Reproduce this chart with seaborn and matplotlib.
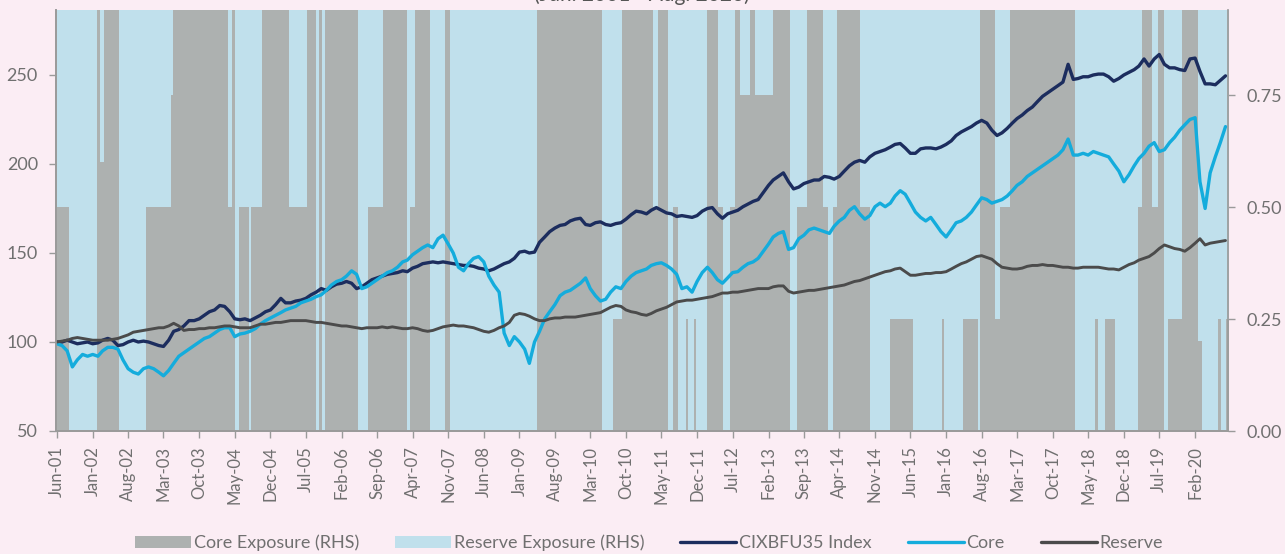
import numpy as np
import pandas as pd
import matplotlib.pyplot as plt
from matplotlib.patches import Patch
from matplotlib.lines import Line2D
import seaborn as sns

# Monthly index levels, Jun-2001 .. Aug-2020
start_month = "2001-06-01"
index_vals = [
    100, 100, 101, 100, 99, 99.5, 100,
    99, 99.5, 101, 102, 101, 98, 98.5, 100, 101, 100, 100.5, 100,
    99, 98, 97.5, 101, 106, 107, 109, 112, 112, 113, 115, 117,
    118, 120.5, 120, 117, 113, 112.5, 113, 112, 113.5, 115, 117, 118,
    121, 124.5, 122, 122, 123, 123.5, 124.5, 126.5, 128, 130, 129, 131,
    132.5, 133, 134, 133, 130, 131, 133, 135, 136, 137, 138, 138.5,
    139, 140, 139.5, 141.5, 142.5, 144, 144.5, 145, 144.5, 145, 144.5, 144,
    143.5, 143, 143, 142.5, 141.5, 141, 140, 141, 142.5, 144, 145, 147,
    150.5, 151, 150, 150.5, 156, 159, 162, 164, 165.5, 166, 168, 169,
    169.5, 166, 165.5, 167, 167.5, 166, 165.5, 166.5, 167, 169, 171.5, 173.5,
    173, 172, 174, 175.5, 174, 172.5, 172, 170.5, 171, 170.5, 170, 171,
    173.5, 175, 175.5, 172, 169.5, 172, 173, 174, 176, 177.5, 179, 180,
    184, 188, 191, 193, 195, 190, 186, 187, 189, 190, 191, 191,
    193, 192.5, 191.5, 193, 196, 199, 201, 202, 201, 204, 206, 207,
    208, 209.5, 211, 211.5, 209, 206, 206, 208.5, 209, 209, 208.5, 209.5,
    211, 213, 216, 218, 219.5, 221, 223, 224.5, 223, 219, 216, 217.5,
    220, 223, 225.5, 227.5, 230, 232, 235, 238, 240, 242, 244, 246,
    256, 247.5, 248, 249, 249, 250, 250.5, 250.5, 249, 246.5, 248, 250,
    251.5, 253, 255, 259, 255, 259, 261.5, 256, 254, 254, 253, 252.5,
    259, 259.5, 252, 245, 245, 244.5, 247, 249.5,
]
core_vals = [
    99, 98, 95, 86, 90, 93, 92,
    93, 92, 95, 97, 97, 96, 90, 85, 83, 82, 85, 86,
    85, 83, 81, 84, 88, 92, 94, 96, 98, 100, 102, 103,
    105, 107, 108, 108, 103, 104.5, 105, 106, 107.5, 110, 112, 113.5,
    115, 116.5, 118, 119, 120, 122, 123, 124, 125.5, 126.5, 129, 132,
    134, 135, 137, 140, 138, 130, 131, 133, 135, 137, 139, 140,
    142, 145, 146, 149, 151, 153, 154.5, 153, 158, 160, 155, 150,
    142, 140, 144, 147, 148, 145, 137, 132, 128, 105, 98, 103,
    100, 96, 88, 100, 106, 113, 117, 121, 126, 128, 129, 131,
    133, 136, 130, 126, 123, 124, 128, 131, 130, 134, 137, 139,
    140, 141, 143, 144, 144.5, 143, 141, 138, 130, 131, 128, 134,
    139, 142, 139, 135, 133, 136, 139, 139.5, 142, 144, 145, 147,
    151, 155, 159, 161, 162, 152, 153, 158, 160, 163, 164, 163,
    162, 161, 165, 168, 170, 174, 176, 172, 169, 171, 176, 178,
    176, 178, 182, 185, 183, 178, 173, 170, 168, 170, 166, 162,
    159, 163, 167, 168, 170, 173, 177, 181, 180, 178, 179, 180,
    182, 185, 188, 190, 193, 195, 197, 199, 201, 203, 205, 208,
    214, 205, 205, 206, 205, 207, 206, 205, 204, 200, 196, 190,
    194, 199, 203, 206, 210, 212, 207, 208, 212, 215, 219, 222,
    225, 226, 190, 175, 195, 204, 212, 221,
]
reserve_vals = [
    100, 100.5, 101, 102, 102.5, 102, 101.5,
    101, 101, 101, 101, 101.5, 102, 103, 104, 105.5, 106, 106.5, 107,
    107.5, 108, 108, 109, 110.5, 109, 106.5, 107, 107, 107.5, 107.5, 108,
    108, 108.5, 109, 109, 108.5, 108, 108, 108, 109, 110, 110, 110.5,
    111, 111, 111.5, 112, 112, 112, 112, 111.5, 111, 111, 110.5, 110,
    109.5, 109, 109, 108.5, 108, 107.5, 108, 108, 108, 108.5, 108, 108.5,
    108, 107.5, 107.5, 108, 107.5, 106.5, 106, 106.5, 107.5, 108.5, 109, 109.5,
    109, 109, 108.5, 108, 107, 106, 105.5, 106.5, 108, 109, 111, 115,
    116, 115.5, 114.5, 113, 112, 112, 113, 113.5, 113.5, 114, 114, 114,
    114.5, 115, 115.5, 116, 116.5, 118, 119.5, 120.5, 120, 118, 117, 116.5,
    115.5, 115, 116, 117.5, 118.5, 119.5, 121, 122.5, 123, 123.5, 123.5, 124,
    124.5, 125, 125.5, 126.5, 127.5, 127.5, 128, 128, 128.5, 129, 129.5, 130,
    130, 130, 131, 131.5, 131.5, 128.5, 127.5, 128, 128.5, 129, 129, 129.5,
    130, 130.5, 131, 131.5, 132, 133, 134, 134.5, 135.5, 136.5, 137.5, 138.5,
    139.5, 140, 141, 141.5, 139.5, 137.5, 137.5, 138, 138.5, 138.5, 139, 139,
    139.5, 141, 142.5, 144, 145, 146.5, 148, 148.5, 147.5, 146.5, 144, 142,
    141.5, 141, 141, 141.5, 142.5, 143, 143, 143.5, 143, 143, 142.5, 142,
    142, 141.5, 141.5, 142, 142, 142, 142, 141.5, 141, 141, 140.5, 142,
    143.5, 144.5, 146, 147, 148, 150, 152.5, 154.5, 153.5, 152.5, 152, 151,
    153, 155.5, 158, 154.5, 155.5, 156, 156.5, 157,
]

# Core exposure regimes (RHS): start date of each regime and core weight
exposure_dates = [
    "2001-06-01", "2001-08-12", "2002-01-27", "2002-02-15", "2002-03-09",
    "2002-06-07", "2002-11-16", "2003-04-13", "2003-04-25", "2004-03-21",
    "2004-04-14", "2004-05-02", "2004-05-26", "2004-07-25", "2004-08-07",
    "2004-10-11", "2005-03-21", "2005-07-07", "2005-08-31", "2005-09-18",
    "2005-10-06", "2005-10-24", "2006-05-09", "2006-07-07", "2006-10-06",
    "2007-02-28", "2007-03-16", "2007-04-15", "2007-07-13", "2007-10-13",
    "2007-11-11", "2009-04-16", "2010-05-10", "2010-07-14", "2010-09-07",
    "2011-03-10", "2011-04-10", "2011-06-10", "2011-07-08", "2011-08-07",
    "2011-09-25", "2011-10-07", "2011-11-12", "2011-11-25", "2012-01-30",
    "2012-04-04", "2012-05-04", "2012-06-15", "2012-07-15", "2012-08-14",
    "2012-10-13", "2012-11-13", "2013-02-28", "2013-06-10", "2013-07-22",
    "2013-09-19", "2013-12-25", "2014-01-24", "2014-02-23", "2014-03-16",
    "2014-08-03", "2014-10-02", "2015-02-01", "2015-06-16", "2015-12-07",
    "2015-12-19", "2016-04-10", "2016-07-10", "2016-07-22", "2016-10-20",
    "2016-11-19", "2017-01-19", "2018-02-13", "2018-06-10", "2018-06-28",
    "2018-08-10", "2018-10-10", "2019-02-25", "2019-03-19", "2019-05-17",
    "2019-06-22", "2019-07-29", "2019-08-22", "2019-11-16", "2020-02-19",
    "2020-03-13", "2020-06-16", "2020-07-04", "2020-08-04",
]
core_exposure = [
    0.5, 0.0, 1.0, 0.6, 1.0,
    0.0, 0.5, 0.75, 1.0, 0.5,
    1.0, 0.0, 0.5, 0.0, 0.5,
    1.0, 0.5, 1.0, 0.0, 1.0,
    0.0, 1.0, 0.0, 0.5, 1.0,
    0.0, 0.5, 1.0, 0.0, 1.0,
    0.0, 1.0, 0.0, 0.25, 1.0,
    0.5, 1.0, 0.0, 0.5, 0.0,
    0.25, 0.0, 0.25, 0.0, 1.0,
    0.5, 0.0, 0.5, 1.0, 0.75,
    1.0, 0.75, 1.0, 0.0, 0.5,
    1.0, 0.5, 0.0, 0.5, 1.0,
    0.5, 0.0, 0.25, 0.0, 0.25,
    0.0, 0.25, 0.0, 1.0, 0.25,
    0.5, 1.0, 0.0, 0.25, 0.0,
    0.25, 0.0, 0.5, 1.0, 0.5,
    1.0, 0.0, 0.25, 1.0, 0.2,
    0.0, 0.25, 0.0, 0.25,
]
exposure_end = "2020-08-22"

title_text = "(Jun. 2001 - Aug. 2020)"
legend_labels = ["Core Exposure (RHS)", "Reserve Exposure (RHS)",
                 "CIXBFU35 Index", "Core", "Reserve"]

bg = "#fbedf4"
c_core_exp = "#adb1b0"
c_res_exp = "#c0e0ec"
c_index = "#1c2d5e"
c_core = "#14acdc"
c_res = "#4b4b4b"
c_axis = "#9a9a9a"
c_text = "#707070"

sns.set_theme(style="ticks")
plt.rcParams["font.family"] = ["Lato", "DejaVu Sans"]

df = pd.DataFrame({
    "date": pd.date_range(start_month, periods=len(index_vals), freq="MS"),
    "index": index_vals,
    "core": core_vals,
    "reserve": reserve_vals,
})

fig = plt.figure(figsize=(12.85, 5.54), dpi=100, facecolor=bg)
ax = fig.add_axes([56 / 1285, 1 - 431 / 554, (1228 - 56) / 1285, (431 - 10) / 554])
ax2 = ax.twinx()

# exposure bands on the right axis
edges = pd.to_datetime(exposure_dates + [exposure_end])
levels = np.array(core_exposure + [core_exposure[-1]])
ax2.fill_between(edges, 0, levels, step="post", color=c_core_exp, lw=0)
ax2.fill_between(edges, levels, 1.0, step="post", color=c_res_exp, lw=0)
ax2.set_ylim(0, 0.94)
ax2.set_yticks([0, 0.25, 0.5, 0.75])
ax2.set_yticklabels(["0.00", "0.25", "0.50", "0.75"])

# lines on the left axis, drawn above the bands
ax.set_zorder(ax2.get_zorder() + 1)
ax.patch.set_visible(False)
sns.lineplot(data=df, x="date", y="index", ax=ax, color=c_index, lw=2.4)
sns.lineplot(data=df, x="date", y="core", ax=ax, color=c_core, lw=2.4)
sns.lineplot(data=df, x="date", y="reserve", ax=ax, color=c_res, lw=2.1)

ax.set_ylim(50, 286.5)
ax.set_yticks([50, 100, 150, 200, 250])
ax.set_xlim(pd.Timestamp("2001-05-26"), pd.Timestamp("2020-08-16"))
ticks = pd.date_range("2001-06-01", "2020-02-01", freq="7MS")
ax.set_xticks(ticks)
ax.set_xticklabels([t.strftime("%b-%y") for t in ticks], rotation=90)
ax.set_xlabel("")
ax.set_ylabel("")

for a in (ax, ax2):
    a.tick_params(colors=c_axis, labelcolor=c_text, labelsize=13, length=5,
                  width=1, pad=8)
    for s in a.spines.values():
        s.set_color(c_axis)
    a.spines["top"].set_visible(False)
ax.tick_params(axis="x", labelsize=12, pad=6)
ax.spines["right"].set_visible(False)

fig.text(642 / 1285, 1 - 5 / 554, title_text, ha="center", va="bottom",
         fontsize=15, color="#555555")

handles = [
    Patch(facecolor=c_core_exp, edgecolor="none"),
    Patch(facecolor=c_res_exp, edgecolor="none"),
    Line2D([], [], color=c_index, lw=2.4),
    Line2D([], [], color=c_core, lw=2.4),
    Line2D([], [], color=c_res, lw=2.4),
]
leg = fig.legend(handles, legend_labels, loc="center", bbox_to_anchor=(0.505, 1 - 543 / 554),
                 ncol=5, frameon=False, fontsize=13, handlelength=3.1,
                 handletextpad=0.15, columnspacing=2.0)
for t in leg.get_texts():
    t.set_color(c_text)

fig.savefig("out.png", dpi=100, facecolor=bg)
